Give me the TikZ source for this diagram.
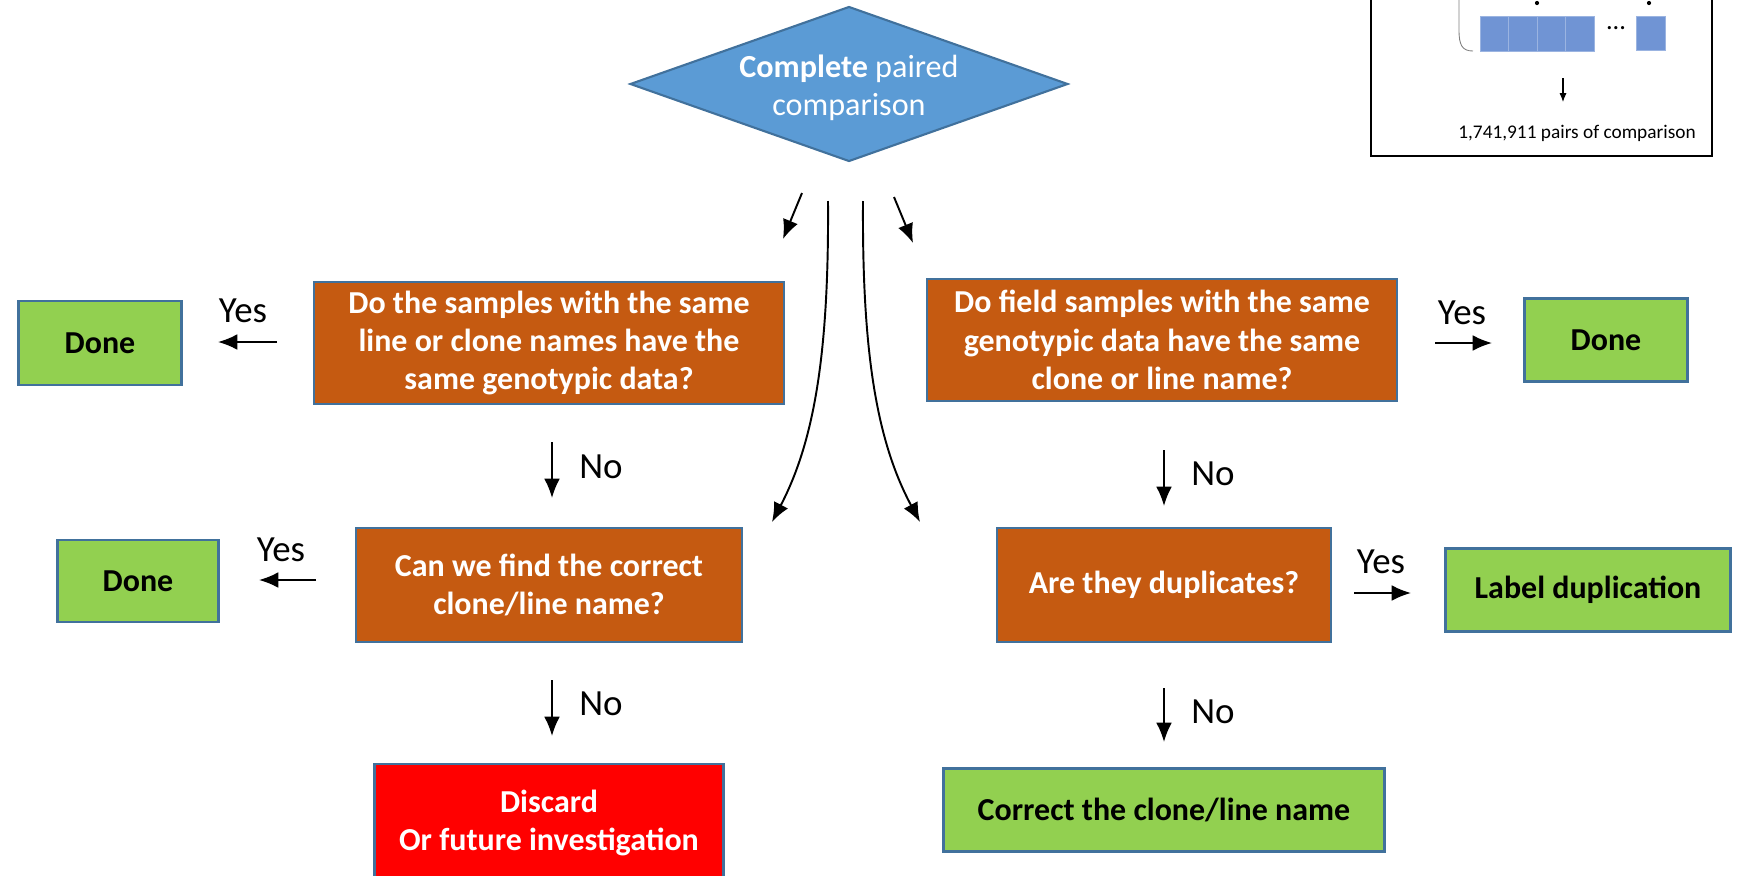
\documentclass[tikz,border=0pt]{standalone}
\usepackage{fontspec}
\setmainfont{Carlito}
\usetikzlibrary{arrows.meta,shapes.geometric}

\definecolor{boxorange}{HTML}{C55A11}
\definecolor{boxgreen}{HTML}{92D050}
\definecolor{boxblue}{HTML}{5B9BD5}
\definecolor{edgeblue}{HTML}{41719C}
\definecolor{cellblue}{HTML}{7094D4}

\begin{document}
\begin{tikzpicture}
			[
				x=0.02cm, y=-0.02cm,
				box/.style={draw=edgeblue, line width=1.2pt, align=center, inner sep=0pt,
					font=\fontsize{18.2}{21.8}\selectfont\bfseries},
				question/.style={box, fill=boxorange, text=white},
				final/.style={box, fill=boxgreen, text=black},
				start/.style={shape=diamond, draw=edgeblue, line width=1.2pt, fill=boxblue,
					text=white, align=center, inner sep=0pt, aspect=2.83,
					minimum width=8.76cm, minimum height=3.1cm, font=\fontsize{18.3}{21.5}\selectfont},
				answer/.style={draw=none, fill=none, font=\fontsize{21}{25}\selectfont},
				arrow/.style={-{Latex[length=11pt,width=9pt]}, line width=1.1pt},
				cell/.style={fill=cellblue, draw=cellblue!70!white, line width=0.4pt}
			]

			\clip (0,0) rectangle (1742,876);

			% pairs box (top right)
			\draw[line width=1.1pt] (1371,-20) -- (1371,156) -- (1712,156) -- (1712,-20);
			\draw[gray, line width=0.5pt] (1459,-20) -- (1459,30) .. controls (1459,45) and (1462,51) .. (1473,51);
			\foreach \i in {0,...,3}
			\draw[cell] (1480+\i*28.5,16) rectangle ++(28.5,35);
			\draw[cell] (1636,16) rectangle (1665,50);
			\fill (1537,3) circle (1.2pt);
			\fill (1649,3) circle (1.2pt);
			\node (gap) at (1616,28) {\fontsize{15}{17}\selectfont ...};
			\coordinate (p1) at (1563,78);
			\coordinate (p2) at (1563,102);
			\draw[-{Latex[length=5pt,width=4pt]}, line width=0.6pt] (p1) -- (p2);
			\node (pairs) at (1577,133) {\fontsize{11}{13}\selectfont 1,741,911 pairs of comparison};

			% start
			\node[start] (cmp) at ( 849, 84 ) {\rule{0pt}{17.5pt}\textbf{Complete} paired\\comparison};

			% questions
			\node[question, minimum width=9.4cm, minimum height=2.44cm] (q1) at ( 549, 343 )
				{Do the samples with the same\\line or clone names have the\\same genotypic data?};
			\node[question, minimum width=9.4cm, minimum height=2.44cm] (q2) at ( 1162, 340 )
				{Do field samples with the same\\genotypic data have the same\\clone or line name?};
			\node[question, minimum width=7.72cm, minimum height=2.28cm] (q3) at ( 549, 585 )
				{Can we find the correct\\clone/line name?};
			\node[question, minimum width=6.68cm, minimum height=2.28cm] (q4) at ( 1164, 585 )
				{Are they duplicates?};

			% outcomes
			\node[final, minimum width=3.26cm, minimum height=1.68cm] (done1) at ( 100, 343 ) {Done};
			\node[final, minimum width=3.26cm, minimum height=1.66cm] (done2) at ( 1606, 340 ) {Done};
			\node[final, minimum width=3.22cm, minimum height=1.64cm] (done3) at ( 138, 581 ) {Done};
			\node[final, minimum width=5.7cm, minimum height=1.66cm] (dup) at ( 1588, 590 ) {Label duplication};
			\node[final, minimum width=8.82cm, minimum height=1.66cm] (fix) at ( 1164, 810 ) {Correct the clone/line name};
			\node[box, fill=red, text=white, minimum width=6.98cm, minimum height=2.36cm] (drop) at ( 549, 823 )
				{Discard\\Or future investigation};

			% answer labels
			\node[answer] (a1) at ( 243, 311 ) {Yes};
			\node[answer] (a2) at ( 281, 550 ) {Yes};
			\node[answer] (a3) at ( 1462, 313 ) {Yes};
			\node[answer] (a4) at ( 1381, 562 ) {Yes};
			\node[answer] (a5) at ( 601, 467 ) {No};
			\node[answer] (a6) at ( 601, 704 ) {No};
			\node[answer] (a7) at ( 1213, 474 ) {No};
			\node[answer] (a8) at ( 1213, 712 ) {No};

			% arrow ends
			\coordinate (y1s) at ( 277, 342 );
			\coordinate (y1e) at ( 218, 342 );
			\coordinate (y2s) at ( 316, 580 );
			\coordinate (y2e) at ( 259, 580 );
			\coordinate (y3s) at ( 1435, 343 );
			\coordinate (y3e) at ( 1492, 343 );
			\coordinate (y4s) at ( 1354, 593 );
			\coordinate (y4e) at ( 1411, 593 );
			\coordinate (n1s) at ( 552, 442 );
			\coordinate (n1e) at ( 552, 498 );
			\coordinate (n2s) at ( 552, 680 );
			\coordinate (n2e) at ( 552, 736 );
			\coordinate (n3s) at ( 1164, 450 );
			\coordinate (n3e) at ( 1164, 506 );
			\coordinate (n4s) at ( 1164, 688 );
			\coordinate (n4e) at ( 1164, 742 );
			\coordinate (s1s) at ( 802, 193 );
			\coordinate (s1e) at ( 783, 239 );
			\coordinate (s2s) at ( 894, 197 );
			\coordinate (s2e) at ( 913, 243 );
			\coordinate (c1s) at ( 828, 201 );
			\coordinate (c1e) at ( 772, 522 );
			\coordinate (c2s) at ( 863, 201 );
			\coordinate (c2e) at ( 920, 522 );

			% arrows
			\foreach \from/\to in {y1s/y1e,y2s/y2e,y3s/y3e,y4s/y4e,n1s/n1e,n2s/n2e,n3s/n3e,n4s/n4e,s1s/s1e,s2s/s2e}
			\draw[arrow] (\from) -- (\to);

			\draw[arrow] (c1s) .. controls (829,350) and (815,440) .. (c1e);
			\draw[arrow] (c2s) .. controls (862,350) and (876,440) .. (c2e);

		\end{tikzpicture}
\end{document}
